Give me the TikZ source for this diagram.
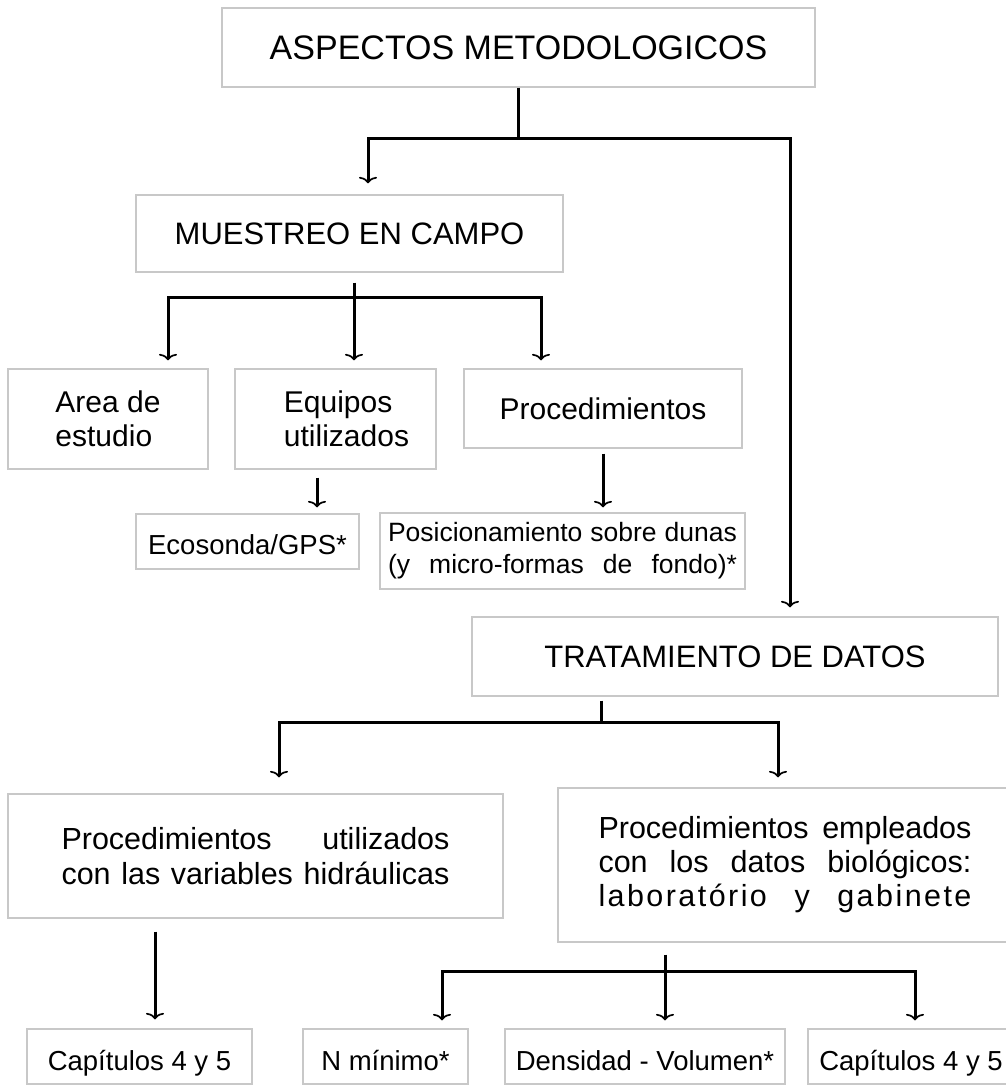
\documentclass[tikz,border=0pt]{standalone}
\usepackage{fontspec}
\setmainfont{Liberation Sans}
\usetikzlibrary{arrows.meta,positioning}
\definecolor{boxgray}{RGB}{200,200,200}

\begin{document}
\begin{tikzpicture}[x=1pt,y=-1pt,on grid,
   box/.style={draw=boxgray,line width=1.3pt,inner sep=0pt,align=center},
   leaf/.style={box,minimum height=55pt,text height=27pt,text depth=0pt,font=\fontsize{27.5}{32}\selectfont},
   link/.style={line width=3pt,-{To[width=18pt,length=6.5pt,line width=1.7pt]}},
   trunk/.style={line width=3pt}]
   \useasboundingbox (0,0) rectangle (1005,1085);
   \node[box,minimum width=593pt,minimum height=79pt,font=\fontsize{34}{40}\selectfont] (aspectos) at (518.5,47.5) {ASPECTOS METODOLOGICOS};
   \node[box,minimum width=427pt,minimum height=77pt,font=\fontsize{31}{36}\selectfont] (muestreo) at (349.5,233.5) {MUESTREO EN CAMPO};
   \node[box,minimum width=200pt,minimum height=100pt,align=left,font=\fontsize{30}{34}\selectfont] (area) at (108,419) {Area de\\estudio};
   \node[box,minimum width=201pt,minimum height=100pt,align=left,font=\fontsize{30}{34}\selectfont] (equipos) [right=227.5pt of area] {\hspace*{22pt}Equipos\\\hspace*{22pt}utilizados};
   \node[box,minimum width=278pt,minimum height=79pt,font=\fontsize{30}{34}\selectfont] (proc) at (603,408.5) {Procedimientos};
   \node[leaf,minimum width=223pt,text height=26pt] (eco) at (247.5,541.5) {Ecosonda/GPS*};
   \node[box,minimum width=365pt,minimum height=76pt,font=\fontsize{26.5}{32}\selectfont] (pos) at (562.5,551) {\makebox[349pt][s]{Posicionamiento sobre dunas}\\\makebox[349pt][s]{(y micro-formas de fondo)*}};
   \node[box,minimum width=526pt,minimum height=79pt,font=\fontsize{31}{36}\selectfont] (trat) at (735,656.5) {TRATAMIENTO DE DATOS};
   \node[box,minimum width=495pt,minimum height=124pt,font=\fontsize{30.5}{35}\selectfont] (hidr) at (255.5,856) {\makebox[388pt][s]{Procedimientos utilizados}\\\makebox[388pt][s]{con las variables hidráulicas}};
   \node[box,minimum width=454pt,minimum height=154pt,font=\fontsize{30.5}{34}\selectfont] (bio) at (785,865) {\makebox[373pt][s]{Procedimientos empleados}\\\makebox[373pt][s]{con los datos biológicos:}\\\makebox[373pt][s]{\addfontfeature{LetterSpace=8}laboratório y gabinete}};
   \node[leaf,minimum width=225pt] (cap_a) at (139.5,1056.5) {Capítulos 4 y 5};
   \node[leaf,minimum width=165pt] (nmin) [right=246pt of cap_a] {N mínimo*};
   \node[leaf,minimum width=280pt] (dens) [right=259.5pt of nmin] {Densidad - Volumen*};
   \node[leaf,minimum width=206pt] (cap_b) [right=266pt of dens] {Capítulos 4 y 5};

   \coordinate (j_top) at (518.5,138);
   \draw[trunk] (aspectos.south) -- (j_top);
   \draw[link,shorten >=11pt] (j_top) -| ([xshift=18.5pt]muestreo.north);
   \draw[link,shorten >=9pt] (j_top) -| ([xshift=55pt]trat.north);

   \coordinate (j_mue) at (354,297);
   \draw[trunk,shorten <=10pt] (muestreo.south -| j_mue) -- (j_mue);
   \draw[link,shorten >=8pt] (j_mue) -| ([xshift=60pt]area.north);
   \draw[link,shorten >=8pt] (j_mue) -- ([xshift=18.5pt]equipos.north);
   \draw[link,shorten >=8pt] (j_mue) -| ([xshift=-62pt]proc.north);
   \draw[link,shorten <=8pt,shorten >=6pt] ([xshift=-18.5pt]equipos.south) -- ([xshift=69.5pt]eco.north);
   \draw[link,shorten <=5pt,shorten >=5pt] (proc.south) -- ([xshift=40.5pt]pos.north);

   \coordinate (j_trat) at (601,722);
   \draw[trunk,shorten <=4pt] (trat.south -| j_trat) -- (j_trat);
   \draw[link,shorten >=16pt] (j_trat) -| ([xshift=23.5pt]hidr.north);
   \draw[link,shorten >=10pt] (j_trat) -| ([xshift=-7pt]bio.north);
   \draw[link,shorten <=13pt,shorten >=9pt] ([xshift=-100.5pt]hidr.south) -- ([xshift=15.5pt]cap_a.north);

   \coordinate (j_bio) at (665,971);
   \draw[trunk,shorten <=12pt] (bio.south -| j_bio) -- (j_bio);
   \draw[link,shorten >=8pt] (j_bio) -| ([xshift=56.5pt]nmin.north);
   \draw[link,shorten >=8pt] (j_bio) -- ([xshift=20pt]dens.north);
   \draw[link,shorten >=8pt] (j_bio) -| ([xshift=4pt]cap_b.north);
\end{tikzpicture}
\end{document}
